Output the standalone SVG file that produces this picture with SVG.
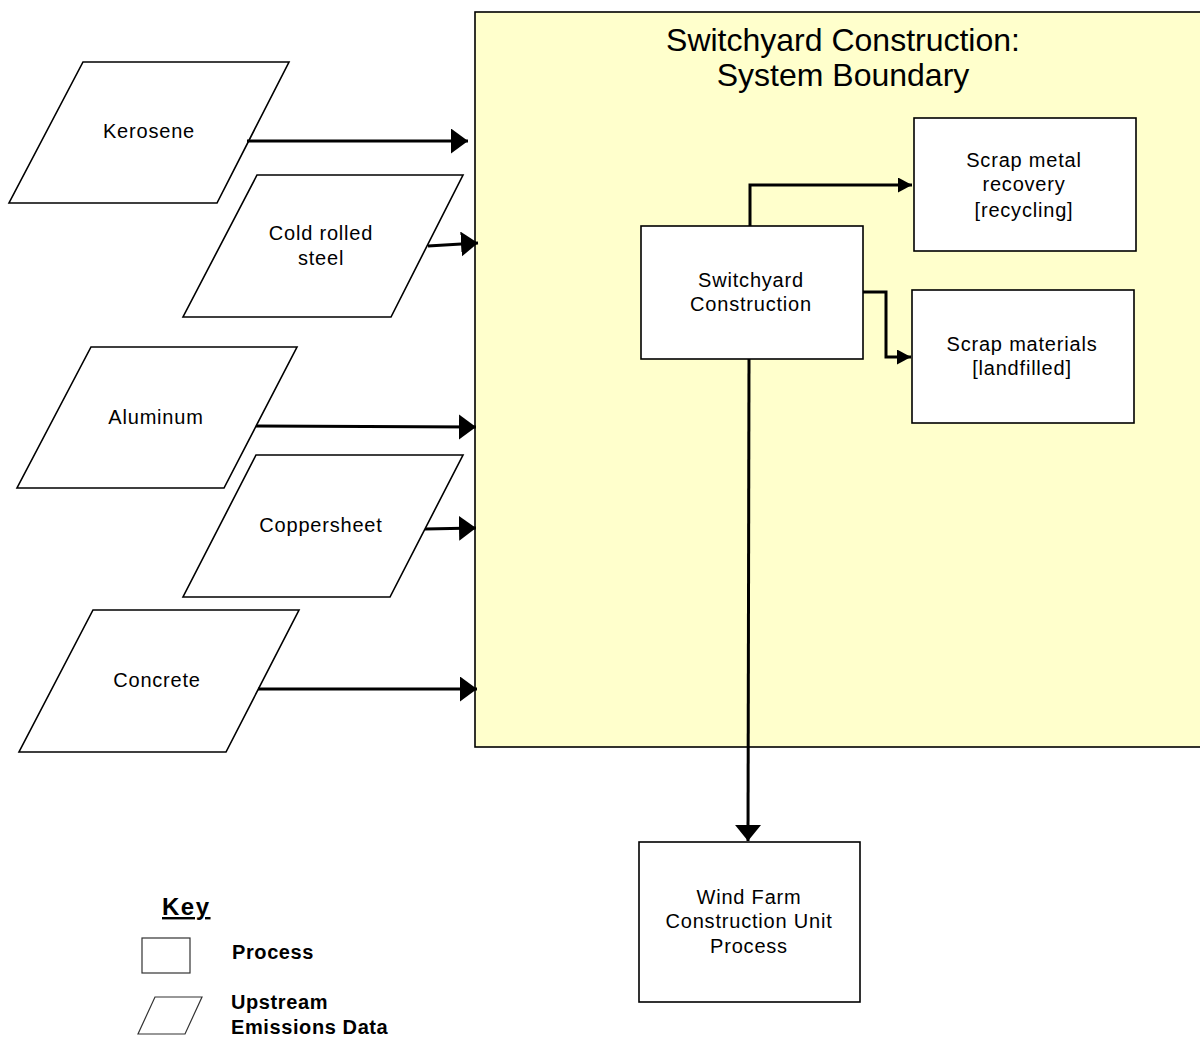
<svg xmlns="http://www.w3.org/2000/svg" width="1200" height="1038" viewBox="0 0 1200 1038">
<style>
.box{fill:#ffffff;stroke:#000;stroke-width:1.6}
.t{font-family:"Liberation Sans",Arial,sans-serif;font-size:20px;fill:#000;text-anchor:middle;letter-spacing:0.8px}
.title{font-family:"Liberation Sans",Arial,sans-serif;font-size:32px;fill:#000;text-anchor:middle}
.k{font-family:"Liberation Sans",Arial,sans-serif;font-size:20px;font-weight:bold;fill:#000;letter-spacing:0.6px}
.c{fill:none;stroke:#000;stroke-width:3}
</style>
<defs>
<marker id="big" markerUnits="userSpaceOnUse" markerWidth="18" markerHeight="26" refX="17" refY="12.5" orient="auto">
<path d="M0,0 L17,12.5 L0,25 z" fill="#000"/>
</marker>
<marker id="small" markerUnits="userSpaceOnUse" markerWidth="15" markerHeight="16" refX="14" refY="7.5" orient="auto">
<path d="M0,0 L14,7.5 L0,15 z" fill="#000"/>
</marker>
<marker id="down" markerUnits="userSpaceOnUse" markerWidth="17" markerHeight="27" refX="16" refY="13" orient="auto">
<path d="M0,0 L16,13 L0,26 z" fill="#000"/>
</marker>
</defs>
<rect width="1200" height="1038" fill="#ffffff"/>

<g id="boundary">
<rect x="475" y="12" width="735" height="735" fill="#ffffcc" stroke="#000" stroke-width="1.6"/>
<text class="title" x="843" y="51">Switchyard Construction:</text>
<text class="title" x="843" y="86">System Boundary</text>
</g>

<g id="kerosene">
<polygon class="box" points="83,62 289,62 217,203 9,203"/>
<text class="t" x="149" y="138">Kerosene</text>
</g>
<g id="cold-rolled-steel">
<polygon class="box" points="257,175 463,175 391,317 183,317"/>
<text class="t" x="321" y="240">Cold rolled</text>
<text class="t" x="321" y="265">steel</text>
</g>
<g id="aluminum">
<polygon class="box" points="91,347 297,347 224,488 17,488"/>
<text class="t" x="156" y="424">Aluminum</text>
</g>
<g id="coppersheet">
<polygon class="box" points="256,455 463,455 390,597 183,597"/>
<text class="t" x="321" y="532">Coppersheet</text>
</g>
<g id="concrete">
<polygon class="box" points="93,610 299,610 226,752 19,752"/>
<text class="t" x="157" y="687">Concrete</text>
</g>

<g id="switchyard-construction">
<rect class="box" x="641" y="226" width="222" height="133"/>
<text class="t" x="751" y="287">Switchyard</text>
<text class="t" x="751" y="311">Construction</text>
</g>
<g id="scrap-metal-recovery">
<rect class="box" x="914" y="118" width="222" height="133"/>
<text class="t" x="1024" y="167">Scrap metal</text>
<text class="t" x="1024" y="191">recovery</text>
<text class="t" x="1024" y="217">[recycling]</text>
</g>
<g id="scrap-materials">
<rect class="box" x="912" y="290" width="222" height="133"/>
<text class="t" x="1022" y="351">Scrap materials</text>
<text class="t" x="1022" y="375">[landfilled]</text>
</g>
<g id="wind-farm">
<rect class="box" x="639" y="842" width="221" height="160"/>
<text class="t" x="749" y="904">Wind Farm</text>
<text class="t" x="749" y="928">Construction Unit</text>
<text class="t" x="749" y="953">Process</text>
</g>

<g id="connectors">
<line class="c" x1="247" y1="141" x2="468" y2="141" marker-end="url(#big)"/>
<line class="c" x1="428" y1="246" x2="478" y2="243" marker-end="url(#big)"/>
<line class="c" x1="256" y1="426" x2="476" y2="427" marker-end="url(#big)"/>
<line class="c" x1="425" y1="529" x2="476" y2="528" marker-end="url(#big)"/>
<line class="c" x1="258" y1="689" x2="477" y2="689" marker-end="url(#big)"/>
<polyline class="c" points="750,226 750,185 912,185" marker-end="url(#small)"/>
<polyline class="c" points="863,292 886,292 886,357 911,357" marker-end="url(#small)"/>
<line class="c" x1="749" y1="359" x2="748" y2="841" marker-end="url(#down)"/>
</g>

<g id="key">
<text x="162" y="915" style="font-family:'Liberation Sans',Arial,sans-serif;font-size:24px;font-weight:bold;letter-spacing:1.5px;text-decoration:underline">Key</text>
<rect x="142" y="938" width="48" height="35" fill="#fff" stroke="#333" stroke-width="1.2"/>
<text class="k" x="232" y="959">Process</text>
<polygon points="155,997 202,997 185,1034 138,1034" fill="#fff" stroke="#333" stroke-width="1.2"/>
<text class="k" x="231" y="1009">Upstream</text>
<text class="k" x="231" y="1034">Emissions Data</text>
</g>
</svg>
